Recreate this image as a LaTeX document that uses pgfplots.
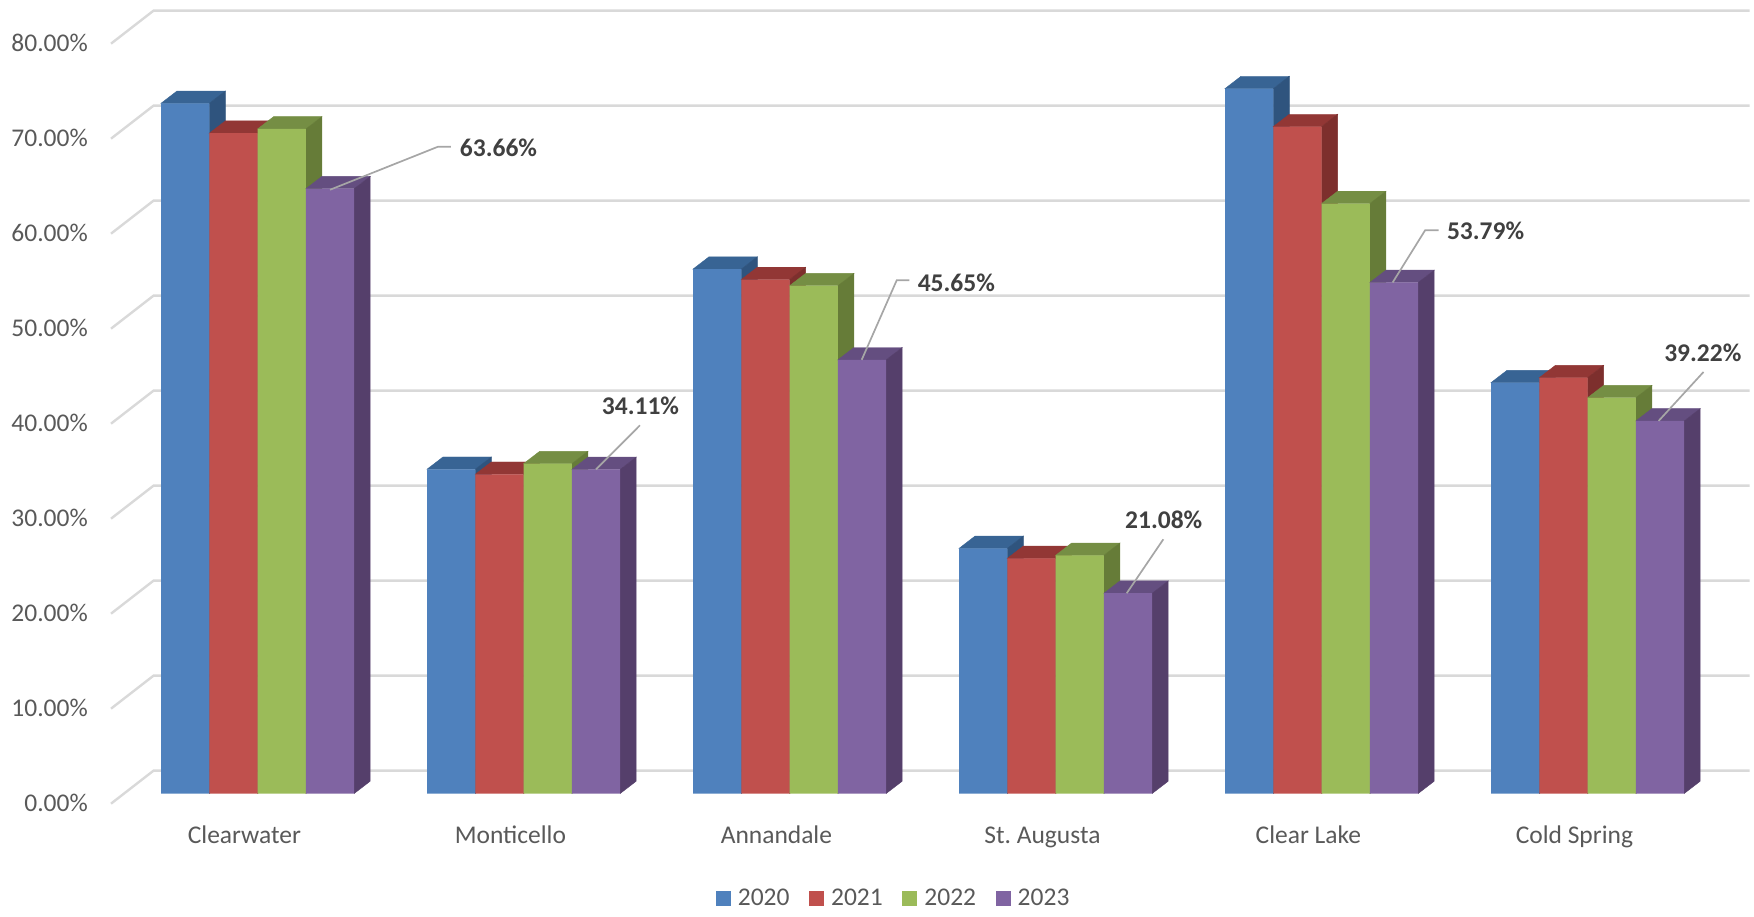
\documentclass[border=0pt]{standalone}
\usepackage{fontspec}
\setmainfont{Carlito}
\usepackage{pgfplots}
\usepackage{pgfplotstable}
\pgfplotsset{compat=1.18}

\definecolor{blueF}{HTML}{4F81BD}\definecolor{blueT}{HTML}{386494}\definecolor{blueS}{HTML}{2F547E}
\definecolor{redF}{HTML}{C0504D}\definecolor{redT}{HTML}{923735}\definecolor{redS}{HTML}{7D2F2D}
\definecolor{greenF}{HTML}{9BBB59}\definecolor{greenT}{HTML}{758E44}\definecolor{greenS}{HTML}{667C38}
\definecolor{purpleF}{HTML}{8064A2}\definecolor{purpleT}{HTML}{644E80}\definecolor{purpleS}{HTML}{553F6B}
\definecolor{gridc}{HTML}{D9D9D9}
\definecolor{labelc}{HTML}{595959}
\definecolor{valuec}{HTML}{404040}
\definecolor{leaderc}{HTML}{A6A6A6}

% town index, then the share for each year
\pgfplotstableread{
x  y20    y21    y22    y23
0  72.65  69.50  69.95  63.66
1  34.13  33.60  34.72  34.11
2  55.20  54.10  53.45  45.65
3  25.80  24.75  25.07  21.08
4  74.20  70.20  62.10  53.79
5  43.25  43.77  41.66  39.22
}\shares

\newdimen\barheight
\pgfplotsset{
  % top and right faces of a bar; #1 bar shift in pt, #2 top colour, #3 side colour
  depth faces/.style n args={3}{
    only marks, scatter, mark=none, forget plot,
    visualization depends on={rawy \as \barval},
    scatter/@pre marker code/.code={%
      \barheight=\barval pt
      \barheight=9.5\barheight
      \fill[#2] (#1pt-24.15pt,0pt) -- ++(48.3pt,0pt) -- ++(16pt,12.3pt) -- ++(-48.3pt,0pt) -- cycle;
      \fill[#3] (#1pt+24.15pt,0pt) -- ++(16pt,12.3pt) -- ++(0pt,-\barheight) -- ++(-16pt,-12.3pt) -- cycle;
    },
    scatter/@post marker code/.code={},
  },
  % front face of a bar; #1 bar shift in pt, #2 colour
  front face/.style n args={2}{
    ybar, bar width=48.3pt, bar shift=#1pt, fill=#2, draw=none,
    legend image code/.code={\fill[#2] (0pt,-7.5pt) rectangle (15pt,7.5pt);},
  },
  wall/.style={draw=gridc, line width=2.4pt, forget plot},
  leader/.style={draw=leaderc, line width=1.7pt, forget plot},
}
\tikzset{value label/.style={font=\fontsize{25.5}{30}\selectfont\bfseries, text=valuec, inner sep=0pt}}

\begin{document}
\begin{tikzpicture}
\useasboundingbox (0pt,0pt) rectangle (1754pt,916pt);
\begin{axis}[
  at={(100pt,122.5pt)}, anchor=south west,
  x=266pt, y=9.5pt,
  xmin=-0.5925, xmax=5.618, ymin=0, ymax=83.4,
  clip=false, clip mode=individual,
  axis line style={draw=none},
  tick style={draw=none},
  major tick length=0pt,
  xtick={0,1,2,3,4,5},
  xticklabels={Clearwater,Monticello,Annandale,St.\ Augusta,Clear Lake,Cold Spring},
  xticklabel style={font=\fontsize{25.5}{30}\selectfont, text=labelc, xshift=-13.2pt, anchor=base, yshift=-50pt, inner sep=0pt},
  ytick={0,10,...,80},
  yticklabel={\pgfmathprintnumber[fixed, fixed zerofill, precision=2, assume math mode=true]{\tick}\%},
  yticklabel style={font=\fontsize{25.5}{30}\selectfont, text=labelc, anchor=east, inner sep=0pt, xshift=-12pt, yshift=-9.5pt},
  legend columns=4,
  legend cell align=left,
  legend style={
    at={(axis cs:2.391,-11)}, anchor=center, draw=none, fill=none, inner sep=0pt,
    font=\fontsize{25.5}{30}\selectfont, text=labelc,
    /tikz/every odd column/.append style={column sep=5pt},
    /tikz/every even column/.append style={column sep=17.6pt},
  },
]

% side wall and back wall gridlines
\addplot[wall] coordinates {(-0.5511,-1.07) (-0.3914,2.4) (5.6086,2.4)};
\addplot[wall] coordinates {(-0.5511,8.93) (-0.3914,12.4) (5.6086,12.4)};
\addplot[wall] coordinates {(-0.5511,18.93) (-0.3914,22.4) (5.6086,22.4)};
\addplot[wall] coordinates {(-0.5511,28.93) (-0.3914,32.4) (5.6086,32.4)};
\addplot[wall] coordinates {(-0.5511,38.93) (-0.3914,42.4) (5.6086,42.4)};
\addplot[wall] coordinates {(-0.5511,48.93) (-0.3914,52.4) (5.6086,52.4)};
\addplot[wall] coordinates {(-0.5511,58.93) (-0.3914,62.4) (5.6086,62.4)};
\addplot[wall] coordinates {(-0.5511,68.93) (-0.3914,72.4) (5.6086,72.4)};
\addplot[wall] coordinates {(-0.5511,78.93) (-0.3914,82.4) (5.6086,82.4)};

% bars run left to right so that each one covers its neighbour's side
\addplot[depth faces={-72.45}{blueT}{blueS}] table[x=x,y=y20] {\shares};
\addplot[front face={-72.45}{blueF}] table[x=x,y=y20] {\shares};
\addlegendentry{2020}
\addplot[depth faces={-24.15}{redT}{redS}] table[x=x,y=y21] {\shares};
\addplot[front face={-24.15}{redF}] table[x=x,y=y21] {\shares};
\addlegendentry{2021}
\addplot[depth faces={24.15}{greenT}{greenS}] table[x=x,y=y22] {\shares};
\addplot[front face={24.15}{greenF}] table[x=x,y=y22] {\shares};
\addlegendentry{2022}
\addplot[depth faces={72.45}{purpleT}{purpleS}] table[x=x,y=y23] {\shares};
\addplot[front face={72.45}{purpleF}] table[x=x,y=y23] {\shares};
\addlegendentry{2023}

% leader lines from the 2023 bars to their values
\addplot[leader] coordinates {(0.2722,63.55) (0.678,68.08) (0.727,68.08)};
\addplot[leader] coordinates {(1.272,34.11) (1.4376,38.76)};
\addplot[leader] coordinates {(2.271,45.65) (2.4026,54.02) (2.45,54.02)};
\addplot[leader] coordinates {(3.2673,21.08) (3.405,26.76)};
\addplot[leader] coordinates {(4.267,53.79) (4.389,59.28) (4.44,59.28)};
\addplot[leader] coordinates {(5.267,39.22) (5.4357,44.37)};

\node[value label] at (axis cs:0.9056,67.95) {63.66\%};
\node[value label] at (axis cs:1.4395,40.79) {34.11\%};
\node[value label] at (axis cs:2.6267,53.77) {45.65\%};
\node[value label] at (axis cs:3.4064,28.76) {21.08\%};
\node[value label] at (axis cs:4.6165,59.21) {53.79\%};
\node[value label] at (axis cs:5.433,46.4) {39.22\%};
\end{axis}
\end{tikzpicture}
\end{document}
